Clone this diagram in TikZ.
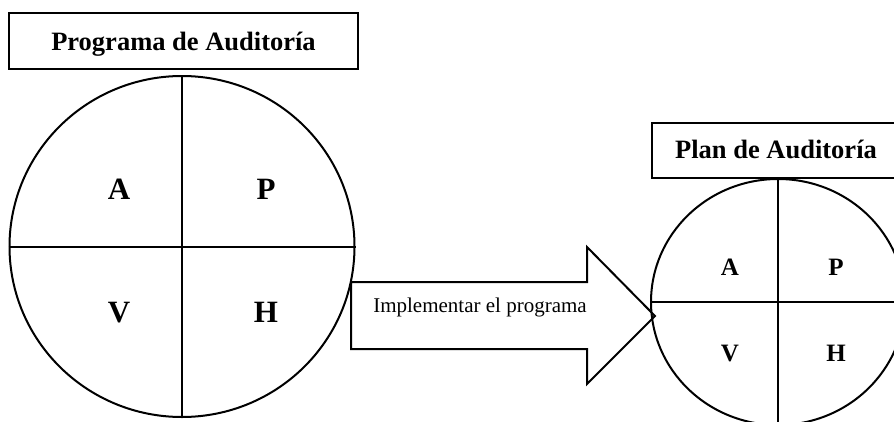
\documentclass[tikz,border=0pt]{standalone}
\usepackage{fontspec}
\setmainfont{Liberation Serif}
\usetikzlibrary{shapes.geometric}
\begin{document}
\begin{tikzpicture}[x=1pt,y=-1pt,
  titlebox/.style={draw,line width=1.1pt,inner sep=0pt},
  titletext/.style={anchor=base,inner sep=0pt,font=\bfseries\fontsize{26.5}{30}\selectfont},
  cycle/.style={draw,ellipse,line width=2pt,inner sep=0pt},
  divider/.style={line width=2pt},
  bigletter/.style={anchor=base,inner sep=0pt,font=\bfseries\fontsize{31}{35}\selectfont},
  smallletter/.style={anchor=base,inner sep=0pt,font=\bfseries\fontsize{25}{29}\selectfont},
  arrowbody/.style={draw,line width=2pt,line join=miter},
  arrowtext/.style={anchor=base,inner sep=0pt,font=\fontsize{21}{25}\selectfont}]
\useasboundingbox (0,0) rectangle (894,421);
\clip (0,0) rectangle (894,421);

% Audit programme: title and PHVA cycle
\node[titlebox,minimum width=349pt,minimum height=56pt] (progbox) at (183.5,41) {};
\node[titletext] (progtitle) at (183.5,50) {Programa de Auditoría};
\node[cycle,minimum width=345pt,minimum height=341pt] (bigc) at (182,246.5) {};
\draw[divider] (bigc.north) -- (bigc.south);
\draw[divider] (bigc.west) -- (bigc.east);
\node[bigletter] (bA) at (119,199.5) {A};
\node[bigletter] (bP) at (266,199.5) {P};
\node[bigletter] (bV) at (119,322) {V};
\node[bigletter] (bH) at (266,322) {H};

% Block arrow between the two cycles
\coordinate (a1) at (351,282);
\coordinate (a2) at (587,282);
\coordinate (a3) at (587,247);
\coordinate (tip) at (655,316);
\coordinate (a5) at (587,384);
\coordinate (a6) at (587,349);
\coordinate (a7) at (351,349);
\draw[arrowbody] (a1) -- (a2) -- (a3) -- (tip) -- (a5) -- (a6) -- (a7) -- cycle;
\node[arrowtext] (impl) at (480,312) {Implementar el programa};

% Audit plan: title and PHVA cycle
\node[titlebox,minimum width=248pt,minimum height=55pt] (planbox) at (776,150.5) {};
\node[titletext] (plantitle) at (776,158) {Plan de Auditoría};
\node[cycle,minimum width=254pt,minimum height=246pt] (smallc) at (778,302) {};
\draw[divider] (smallc.north) -- (smallc.south);
\draw[divider] (smallc.west) -- (smallc.east);
\node[smallletter] (sA) at (730,275) {A};
\node[smallletter] (sP) at (836,275) {P};
\node[smallletter] (sV) at (730,361) {V};
\node[smallletter] (sH) at (836,361) {H};
\end{tikzpicture}
\end{document}
